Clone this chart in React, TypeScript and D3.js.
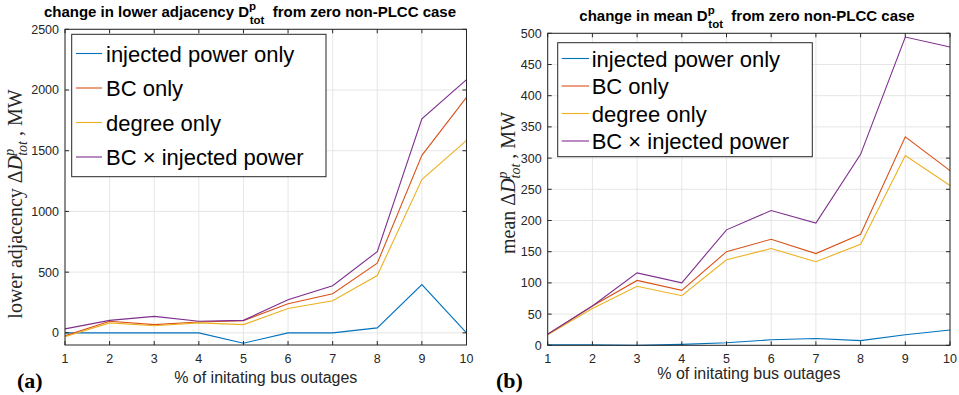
import React from 'react';
import * as d3 from 'd3';

const xValues = [1, 2, 3, 4, 5, 6, 7, 8, 9, 10];
const seriesNames = ['injected power only', 'BC only', 'degree only', 'BC \u00d7 injected power'];
const seriesColors = ['#0072BD', '#D95319', '#EDB120', '#7E2F8E'];

const lowerInjected = [0, 0, 0, 0, -85, 0, 0, 41, 398, 0];
const lowerBC = [-25, 95, 68, 90, 101, 240, 322, 574, 1462, 1940];
const lowerDegree = [-32, 82, 58, 82, 68, 200, 265, 472, 1262, 1585];
const lowerBCxInj = [33, 103, 136, 95, 103, 273, 388, 669, 1762, 2085];

const meanInjected = [1, 1, 0, 1.5, 4, 9, 11, 7.5, 17, 24.5];
const meanBC = [17.6, 63, 104, 88, 150, 170, 147, 178, 334, 280];
const meanDegree = [17, 59, 94.5, 79.5, 137, 155, 134, 162, 304, 256];
const meanBCxInj = [17.6, 63, 116, 100, 185, 216, 196, 306, 494, 478];

const lowerYTicks = [0, 500, 1000, 1500, 2000, 2500];
const meanYTicks = [0, 50, 100, 150, 200, 250, 300, 350, 400, 450, 500];
const xTicks = [1, 2, 3, 4, 5, 6, 7, 8, 9, 10];

const SANS = "'Liberation Sans', Arial, Helvetica, sans-serif";
const SERIF = "'Liberation Serif', 'Times New Roman', serif";
const AXIS = '#262626';
const GRID = '#e6e6e6';

type PanelProps = {
  series: number[][];
  yDomain: [number, number];
  yTicks: number[];
  left: number; right: number; top: number; bottom: number;
  legend: { x0: number; x1: number; y0: number; y1: number; rows: number[]; lx0: number; lx1: number; tx: number };
  titleMain: string; titleX: number; titleY: number;
  ylabelPre: string; ylabelX: number; ylabelY: number;
  xlabelY: number;
  letter: string; letterX: number;
};

function Panel(p: PanelProps) {
  const x = d3.scaleLinear().domain([1, 10]).range([p.left, p.right]);
  const y = d3.scaleLinear().domain(p.yDomain).range([p.bottom, p.top]);
  const line = d3.line<number>().x((_, i) => x(xValues[i])).y((d) => y(d));
  const tl = 4;
  return (
    <g>
      {xTicks.map((t) => (
        <line key={'gx' + t} x1={x(t)} x2={x(t)} y1={p.top} y2={p.bottom} stroke={GRID} strokeWidth={1} />
      ))}
      {p.yTicks.map((t) => (
        <line key={'gy' + t} x1={p.left} x2={p.right} y1={y(t)} y2={y(t)} stroke={GRID} strokeWidth={1} />
      ))}
      {p.series.map((s, i) => (
        <path key={'s' + i} d={line(s) || ''} fill="none" stroke={seriesColors[i]} strokeWidth={1.1} />
      ))}
      <rect x={p.left} y={p.top} width={p.right - p.left} height={p.bottom - p.top} fill="none" stroke={AXIS} strokeWidth={1} />
      {xTicks.map((t) => (
        <g key={'tx' + t}>
          <line x1={x(t)} x2={x(t)} y1={p.bottom} y2={p.bottom - tl} stroke={AXIS} />
          <line x1={x(t)} x2={x(t)} y1={p.top} y2={p.top + tl} stroke={AXIS} />
          <text x={x(t)} y={362.5} textAnchor="middle" fontFamily={SANS} fontSize={12.5} fill={AXIS}>{t}</text>
        </g>
      ))}
      {p.yTicks.map((t) => (
        <g key={'ty' + t}>
          <line x1={p.left} x2={p.left + tl} y1={y(t)} y2={y(t)} stroke={AXIS} />
          <line x1={p.right} x2={p.right - tl} y1={y(t)} y2={y(t)} stroke={AXIS} />
          <text x={p.left - 6} y={y(t) + 4.4} textAnchor="end" fontFamily={SANS} fontSize={12.5} fill={AXIS}>{t}</text>
        </g>
      ))}
      <rect x={p.legend.x0} y={p.legend.y0} width={p.legend.x1 - p.legend.x0} height={p.legend.y1 - p.legend.y0} fill="#fff" stroke={AXIS} strokeWidth={1} />
      {seriesNames.map((n, i) => (
        <g key={'lg' + i}>
          <line x1={p.legend.lx0} x2={p.legend.lx1} y1={p.legend.rows[i]} y2={p.legend.rows[i]} stroke={seriesColors[i]} strokeWidth={1.1} />
          <text x={p.legend.tx} y={p.legend.rows[i] + 8.2} fontFamily={SANS} fontSize={22} fill="#000">{n}</text>
        </g>
      ))}
      <text x={p.titleX} y={p.titleY} textAnchor="middle" fontFamily={SANS} fontWeight="bold" fontSize={15} fill="#000">
        <tspan>{p.titleMain}</tspan>
        <tspan dy={-7} fontSize={11.5}>p</tspan>
        <tspan dx={-6.4} dy={14} fontSize={11.5}>tot</tspan>
        <tspan dy={-7}>{'\u00a0 from zero non-PLCC case'}</tspan>
      </text>
      <text transform={`translate(${p.ylabelX},${p.ylabelY}) rotate(-90)`} textAnchor="middle" fontFamily={SERIF} fontSize={20} fill="#262626">
        <tspan>{p.ylabelPre + ' \u0394'}</tspan>
        <tspan fontStyle="italic">D</tspan>
        <tspan fontStyle="italic" dy={-8} fontSize={14}>p</tspan>
        <tspan fontStyle="italic" dx={-7} dy={13} fontSize={14}>tot</tspan>
        <tspan dy={-5}>{' , MW'}</tspan>
      </text>
      <text x={(p.left + p.right) / 2} y={p.xlabelY} textAnchor="middle" fontFamily={SANS} fontSize={16} fill={AXIS}>% of initating bus outages</text>
      <text x={p.letterX} y={388} fontFamily={SERIF} fontWeight="bold" fontSize={22} fill="#000">{p.letter}</text>
    </g>
  );
}

export default function App() {
  return (
    <svg width={959} height={395} style={{ position: 'absolute', left: 0, top: 0, background: '#fff' }}>
      <rect width={959} height={395} fill="#fff" />
      <Panel
        series={[lowerInjected, lowerBC, lowerDegree, lowerBCxInj]}
        yDomain={[-100, 2500]}
        yTicks={lowerYTicks}
        left={65} right={466.5} top={29.3} bottom={345}
        legend={{ x0: 71.7, x1: 326, y0: 34.3, y1: 176.7, rows: [53.5, 88, 122.5, 157], lx0: 76, lx1: 102, tx: 106 }}
        titleMain="change in lower adjacency D" titleX={250} titleY={17}
        ylabelPre="lower adjacency" ylabelX={22} ylabelY={204}
        xlabelY={383}
        letter="(a)" letterX={17}
      />
      <Panel
        series={[meanInjected, meanBC, meanDegree, meanBCxInj]}
        yDomain={[0, 500]}
        yTicks={meanYTicks}
        left={547.7} right={950} top={33.3} bottom={345.3}
        legend={{ x0: 557.7, x1: 812.3, y0: 42.7, y1: 156.7, rows: [58.5, 86, 113.5, 141], lx0: 561.7, lx1: 589, tx: 591.7 }}
        titleMain="change in mean D" titleX={747} titleY={20.5}
        ylabelPre="mean" ylabelX={515} ylabelY={183}
        xlabelY={379}
        letter="(b)" letterX={496}
      />
    </svg>
  );
}
